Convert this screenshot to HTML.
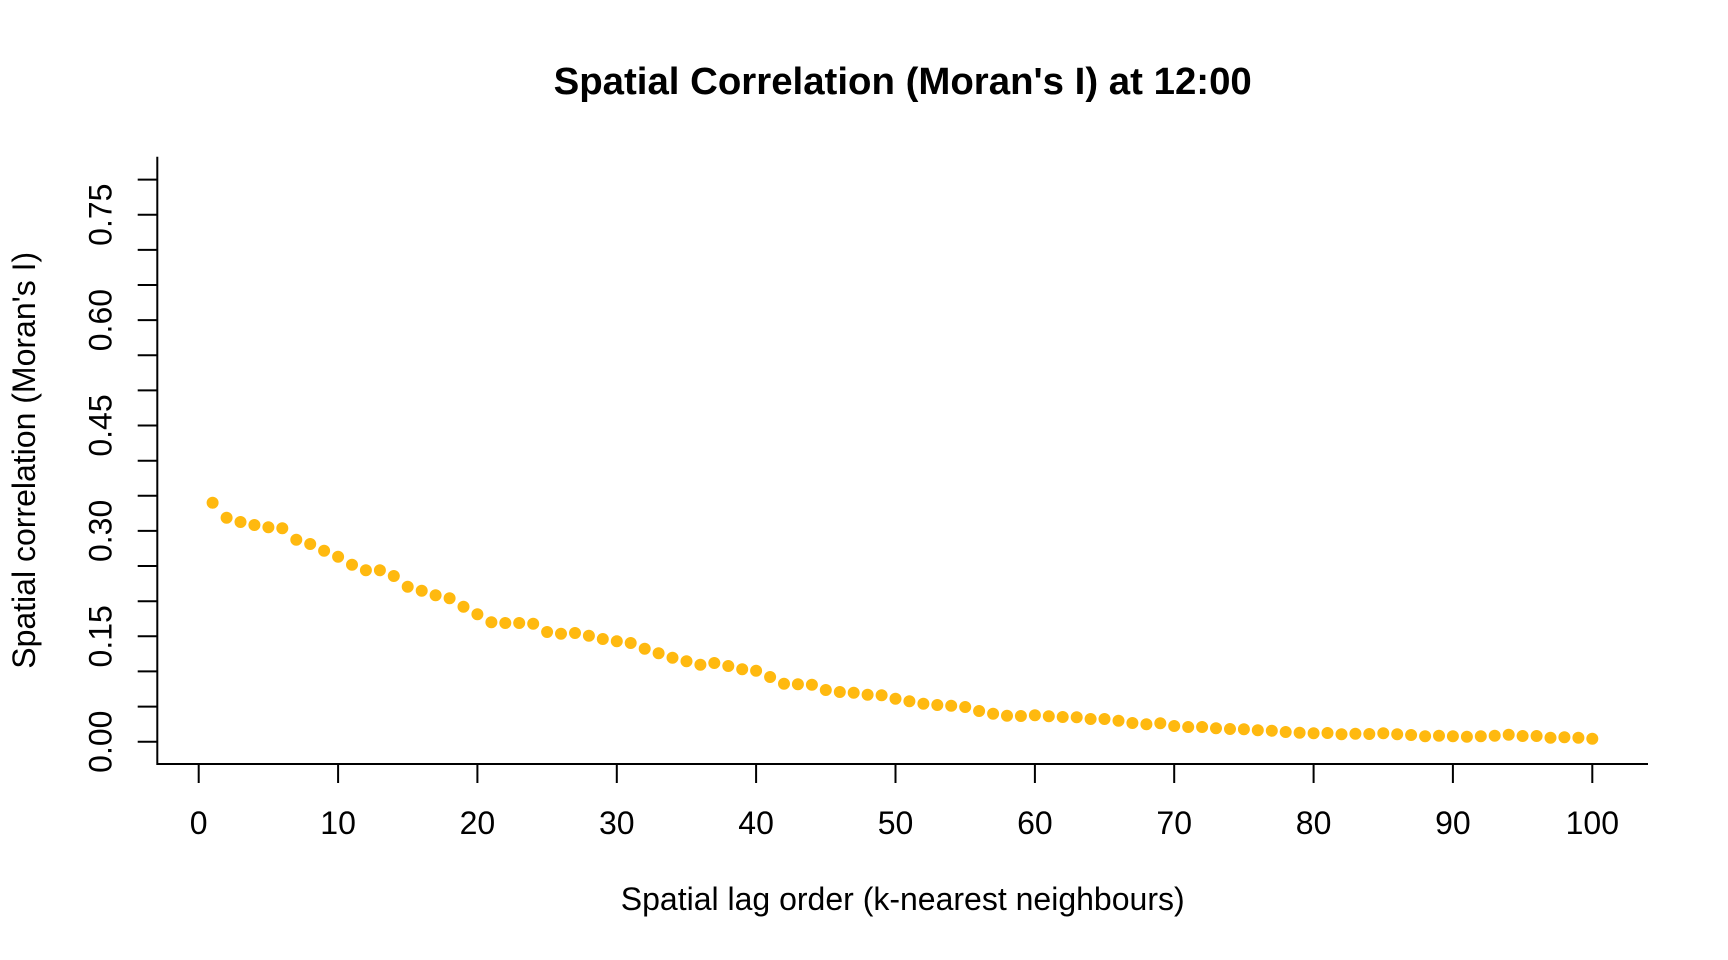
<!DOCTYPE html>
<html>
<head>
<meta charset="utf-8">
<style>
html,body{margin:0;padding:0;background:#fff;}
svg{display:block;}
text{font-family:"Liberation Sans",Arial,Helvetica,sans-serif;fill:#000;}
</style>
</head>
<body>
<svg width="1728" height="960" viewBox="0 0 1728 960" xmlns="http://www.w3.org/2000/svg">
<rect width="1728" height="960" fill="#fff"/>
<text x="902.7" y="94" text-anchor="middle" font-size="38.4" font-weight="bold">Spatial Correlation (Moran's I) at 12:00</text>
<g stroke="#000" stroke-width="2" fill="none">
<path d="M157.3 156.7V764H1648"/>
<path d="M198.7 764V783M338.1 764V783M477.4 764V783M616.8 764V783M756.1 764V783M895.5 764V783M1034.9 764V783M1174.2 764V783M1313.6 764V783M1452.9 764V783M1592.3 764V783"/>
<path d="M137.7 741.7H157.3M137.7 706.6H157.3M137.7 671.4H157.3M137.7 636.3H157.3M137.7 601.2H157.3M137.7 566H157.3M137.7 530.9H157.3M137.7 495.8H157.3M137.7 460.7H157.3M137.7 425.5H157.3M137.7 390.4H157.3M137.7 355.3H157.3M137.7 320.1H157.3M137.7 285H157.3M137.7 249.9H157.3M137.7 214.7H157.3M137.7 179.6H157.3"/>
</g>
<g font-size="32" text-anchor="middle">
<text x="198.7" y="834">0</text>
<text x="338.1" y="834">10</text>
<text x="477.4" y="834">20</text>
<text x="616.8" y="834">30</text>
<text x="756.1" y="834">40</text>
<text x="895.5" y="834">50</text>
<text x="1034.9" y="834">60</text>
<text x="1174.2" y="834">70</text>
<text x="1313.6" y="834">80</text>
<text x="1452.9" y="834">90</text>
<text x="1592.3" y="834">100</text>
<text transform="translate(111.7,741.7) rotate(-90)">0.00</text>
<text transform="translate(111.7,636.3) rotate(-90)">0.15</text>
<text transform="translate(111.7,530.9) rotate(-90)">0.30</text>
<text transform="translate(111.7,425.5) rotate(-90)">0.45</text>
<text transform="translate(111.7,320.1) rotate(-90)">0.60</text>
<text transform="translate(111.7,214.7) rotate(-90)">0.75</text>
<text x="902.7" y="910">Spatial lag order (k-nearest neighbours)</text>
<text transform="translate(35,460.3) rotate(-90)">Spatial correlation (Moran's I)</text>
</g>
<path fill="none" stroke="#FFB90F" stroke-width="12" stroke-linecap="round" d="M212.6 502.7h0M226.6 517.7h0M240.5 522h0M254.4 525h0M268.4 527.3h0M282.3 528.3h0M296.3 539.7h0M310.2 544h0M324.1 550.7h0M338.1 556.7h0M352 564.7h0M365.9 570.3h0M379.9 570.3h0M393.8 576h0M407.7 586.7h0M421.7 590.7h0M435.6 595.3h0M449.6 598.3h0M463.5 606.7h0M477.4 614.3h0M491.4 622.3h0M505.3 623h0M519.2 623h0M533.2 623.7h0M547.1 632h0M561 633.7h0M575 633h0M588.9 635.7h0M602.8 639h0M616.8 641.3h0M630.7 643h0M644.7 648.7h0M658.6 653.3h0M672.5 657.7h0M686.5 661.3h0M700.4 664.7h0M714.3 663h0M728.3 666h0M742.2 669.3h0M756.1 670.7h0M770.1 677h0M784 683.7h0M797.9 684.3h0M811.9 684.7h0M825.8 690h0M839.8 692h0M853.7 692.7h0M867.6 694.7h0M881.6 695.3h0M895.5 698.7h0M909.4 701.3h0M923.4 703.7h0M937.3 705h0M951.2 705.7h0M965.2 707h0M979.1 711h0M993.1 713.7h0M1007 715.7h0M1020.9 716h0M1034.9 715.3h0M1048.8 716.3h0M1062.7 717h0M1076.7 717.3h0M1090.6 719h0M1104.5 719h0M1118.5 720.7h0M1132.4 723h0M1146.4 724.3h0M1160.3 723.3h0M1174.2 726h0M1188.2 727h0M1202.1 727h0M1216 728.3h0M1230 729h0M1243.9 729.3h0M1257.8 730.3h0M1271.8 730.7h0M1285.7 732h0M1299.6 732.7h0M1313.6 733.3h0M1327.5 733h0M1341.5 734.3h0M1355.4 733.7h0M1369.3 734h0M1383.3 733.3h0M1397.2 734.3h0M1411.1 735h0M1425.1 736.3h0M1439 735.7h0M1452.9 736.3h0M1466.9 736.7h0M1480.8 736.3h0M1494.7 735.7h0M1508.7 734.7h0M1522.6 736h0M1536.6 736h0M1550.5 737.7h0M1564.4 737.3h0M1578.4 737.7h0M1592.3 738.7h0"/>
</svg>
</body>
</html>
